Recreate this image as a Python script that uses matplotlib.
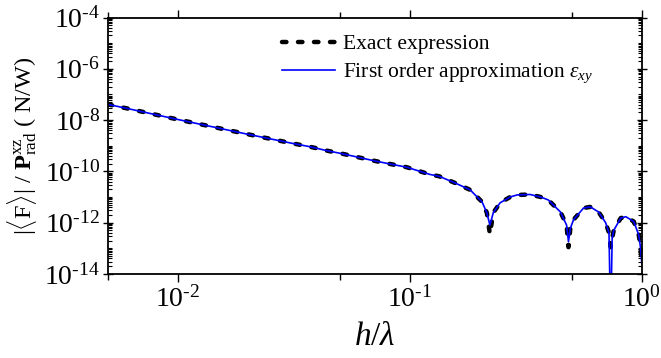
import math
import matplotlib
matplotlib.use("Agg")
import matplotlib.pyplot as plt
from matplotlib.ticker import LogLocator, FixedLocator, FuncFormatter, NullFormatter

plt.rcParams['font.family'] = ['Liberation Serif', 'DejaVu Serif']
plt.rcParams['mathtext.fontset'] = 'custom'
plt.rcParams['mathtext.rm'] = 'Liberation Serif'
plt.rcParams['mathtext.it'] = 'Liberation Serif:italic'
plt.rcParams['mathtext.bf'] = 'Liberation Serif:bold'

# valeurs
h_ratio = [0.005, 0.006, 0.0098, 0.019, 0.031, 0.037, 0.044, 0.051, 0.070, 0.082,
           0.097, 0.122, 0.134, 0.157, 0.182, 0.205, 0.215, 0.2215, 0.229, 0.245,
           0.271, 0.29, 0.33, 0.366, 0.395, 0.446, 0.474, 0.483, 0.492, 0.508,
           0.561, 0.60, 0.651, 0.698, 0.722, 0.734, 0.745, 0.757, 0.811, 0.853,
           0.923, 0.97, 0.985, 1.0]
force_exact = [4.1e-8, 2.9e-8, 1.1e-8, 3.1e-9, 1.25e-9, 9.2e-10, 6.4e-10, 4.9e-10, 2.6e-10, 1.95e-10,
               1.45e-10, 7.6e-11, 6.4e-11, 3.5e-11, 1.9e-11, 6.4e-12, 2.4e-12, 3.5e-13, 2.4e-12, 5.9e-12,
               1.0e-11, 1.2e-11, 1.25e-11, 1.0e-11, 7.7e-12, 2.6e-12, 8e-13, 1.1e-13, 6e-13, 1.3e-12,
               3.7e-12, 4.1e-12, 2.6e-12, 1.0e-12, 4e-13, 1.1e-13, 2.5e-13, 5e-13, 1.5e-12, 1.7e-12,
               1.1e-12, 3.3e-13, 1.2e-13, 2.5e-14]
force_approx = [4.1e-8, 2.9e-8, 1.1e-8, 3.1e-9, 1.25e-9, 9.2e-10, 6.4e-10, 4.9e-10, 2.6e-10, 1.95e-10,
                1.45e-10, 7.6e-11, 6.4e-11, 3.5e-11, 1.9e-11, 6.4e-12, 2.4e-12, 8e-13, 2.4e-12, 5.9e-12,
                1.0e-11, 1.2e-11, 1.25e-11, 1.0e-11, 7.7e-12, 2.6e-12, 8e-13, 1.8e-13, 6e-13, 1.3e-12,
                3.7e-12, 4.1e-12, 2.6e-12, 1.0e-12, 4e-13, 1e-16, 2.5e-13, 5e-13, 1.5e-12, 1.7e-12,
                1.1e-12, 3.3e-13, 1.2e-13, 2.5e-14]

fig = plt.figure(figsize=(6.61, 3.58), dpi=100)
ax = fig.add_axes([0.163, 0.235, 0.808, 0.716])

ax.plot(h_ratio, force_exact, color='black', lw=3.2, linestyle=(0, (1.0, 2.6)),
        dash_capstyle='round', label='Exact expression')
ax.plot(h_ratio, force_approx, color='#0000ff', lw=1.2,
        label=r'First order approximation $\varepsilon_{xy}$')

ax.set_xscale('log')
ax.set_yscale('log')
ax.set_xlim(0.005, 1)
ax.set_ylim(1e-14, 1e-4)


def puissance(v, pos):
    n = round(math.log10(v))
    expo = ('\u2010' + str(-n)) if n < 0 else str(n)
    return r'$\mathrm{10}^{\mathrm{%s}}$' % expo


# graduations
ax.xaxis.set_major_locator(FixedLocator([0.01, 0.1, 1]))
ax.xaxis.set_minor_locator(FixedLocator([0.005, 0.05, 0.5]))
ax.yaxis.set_major_locator(LogLocator(base=100, numticks=10))
ax.yaxis.set_minor_locator(LogLocator(base=10, subs=range(1, 10), numticks=30))
ax.xaxis.set_major_formatter(FuncFormatter(puissance))
ax.yaxis.set_major_formatter(FuncFormatter(puissance))
ax.xaxis.set_minor_formatter(NullFormatter())
ax.yaxis.set_minor_formatter(NullFormatter())

ax.tick_params(axis='x', which='major', direction='out', length=6, width=1, top=True,
               labelsize=20, pad=3)
ax.tick_params(axis='x', which='minor', direction='out', length=4, width=1, top=True)
ax.tick_params(axis='y', which='major', direction='inout', length=7, width=1, right=True,
               labelsize=20, pad=2)
ax.tick_params(axis='y', which='minor', direction='in', length=3, width=0.8, right=True)
for s in ax.spines.values():
    s.set_linewidth(1.3)

ax.set_xlabel(r'$h/\lambda$', fontsize=24, labelpad=6)
ax.set_ylabel(r'$|\langle\mathrm{F}\rangle|$ / $\mathbf{P}^{\mathrm{xz}}_{\mathrm{rad}}$ ( N/W)',
              fontsize=17.5, labelpad=4)

ax.legend(loc='upper left', bbox_to_anchor=(0.426, 0.905), bbox_transform=fig.transFigure,
          frameon=False, fontsize=15.5, handlelength=2.5, handletextpad=0.35,
          labelspacing=0.35, borderpad=0, borderaxespad=0)

fig.savefig('out.png', dpi=100)
